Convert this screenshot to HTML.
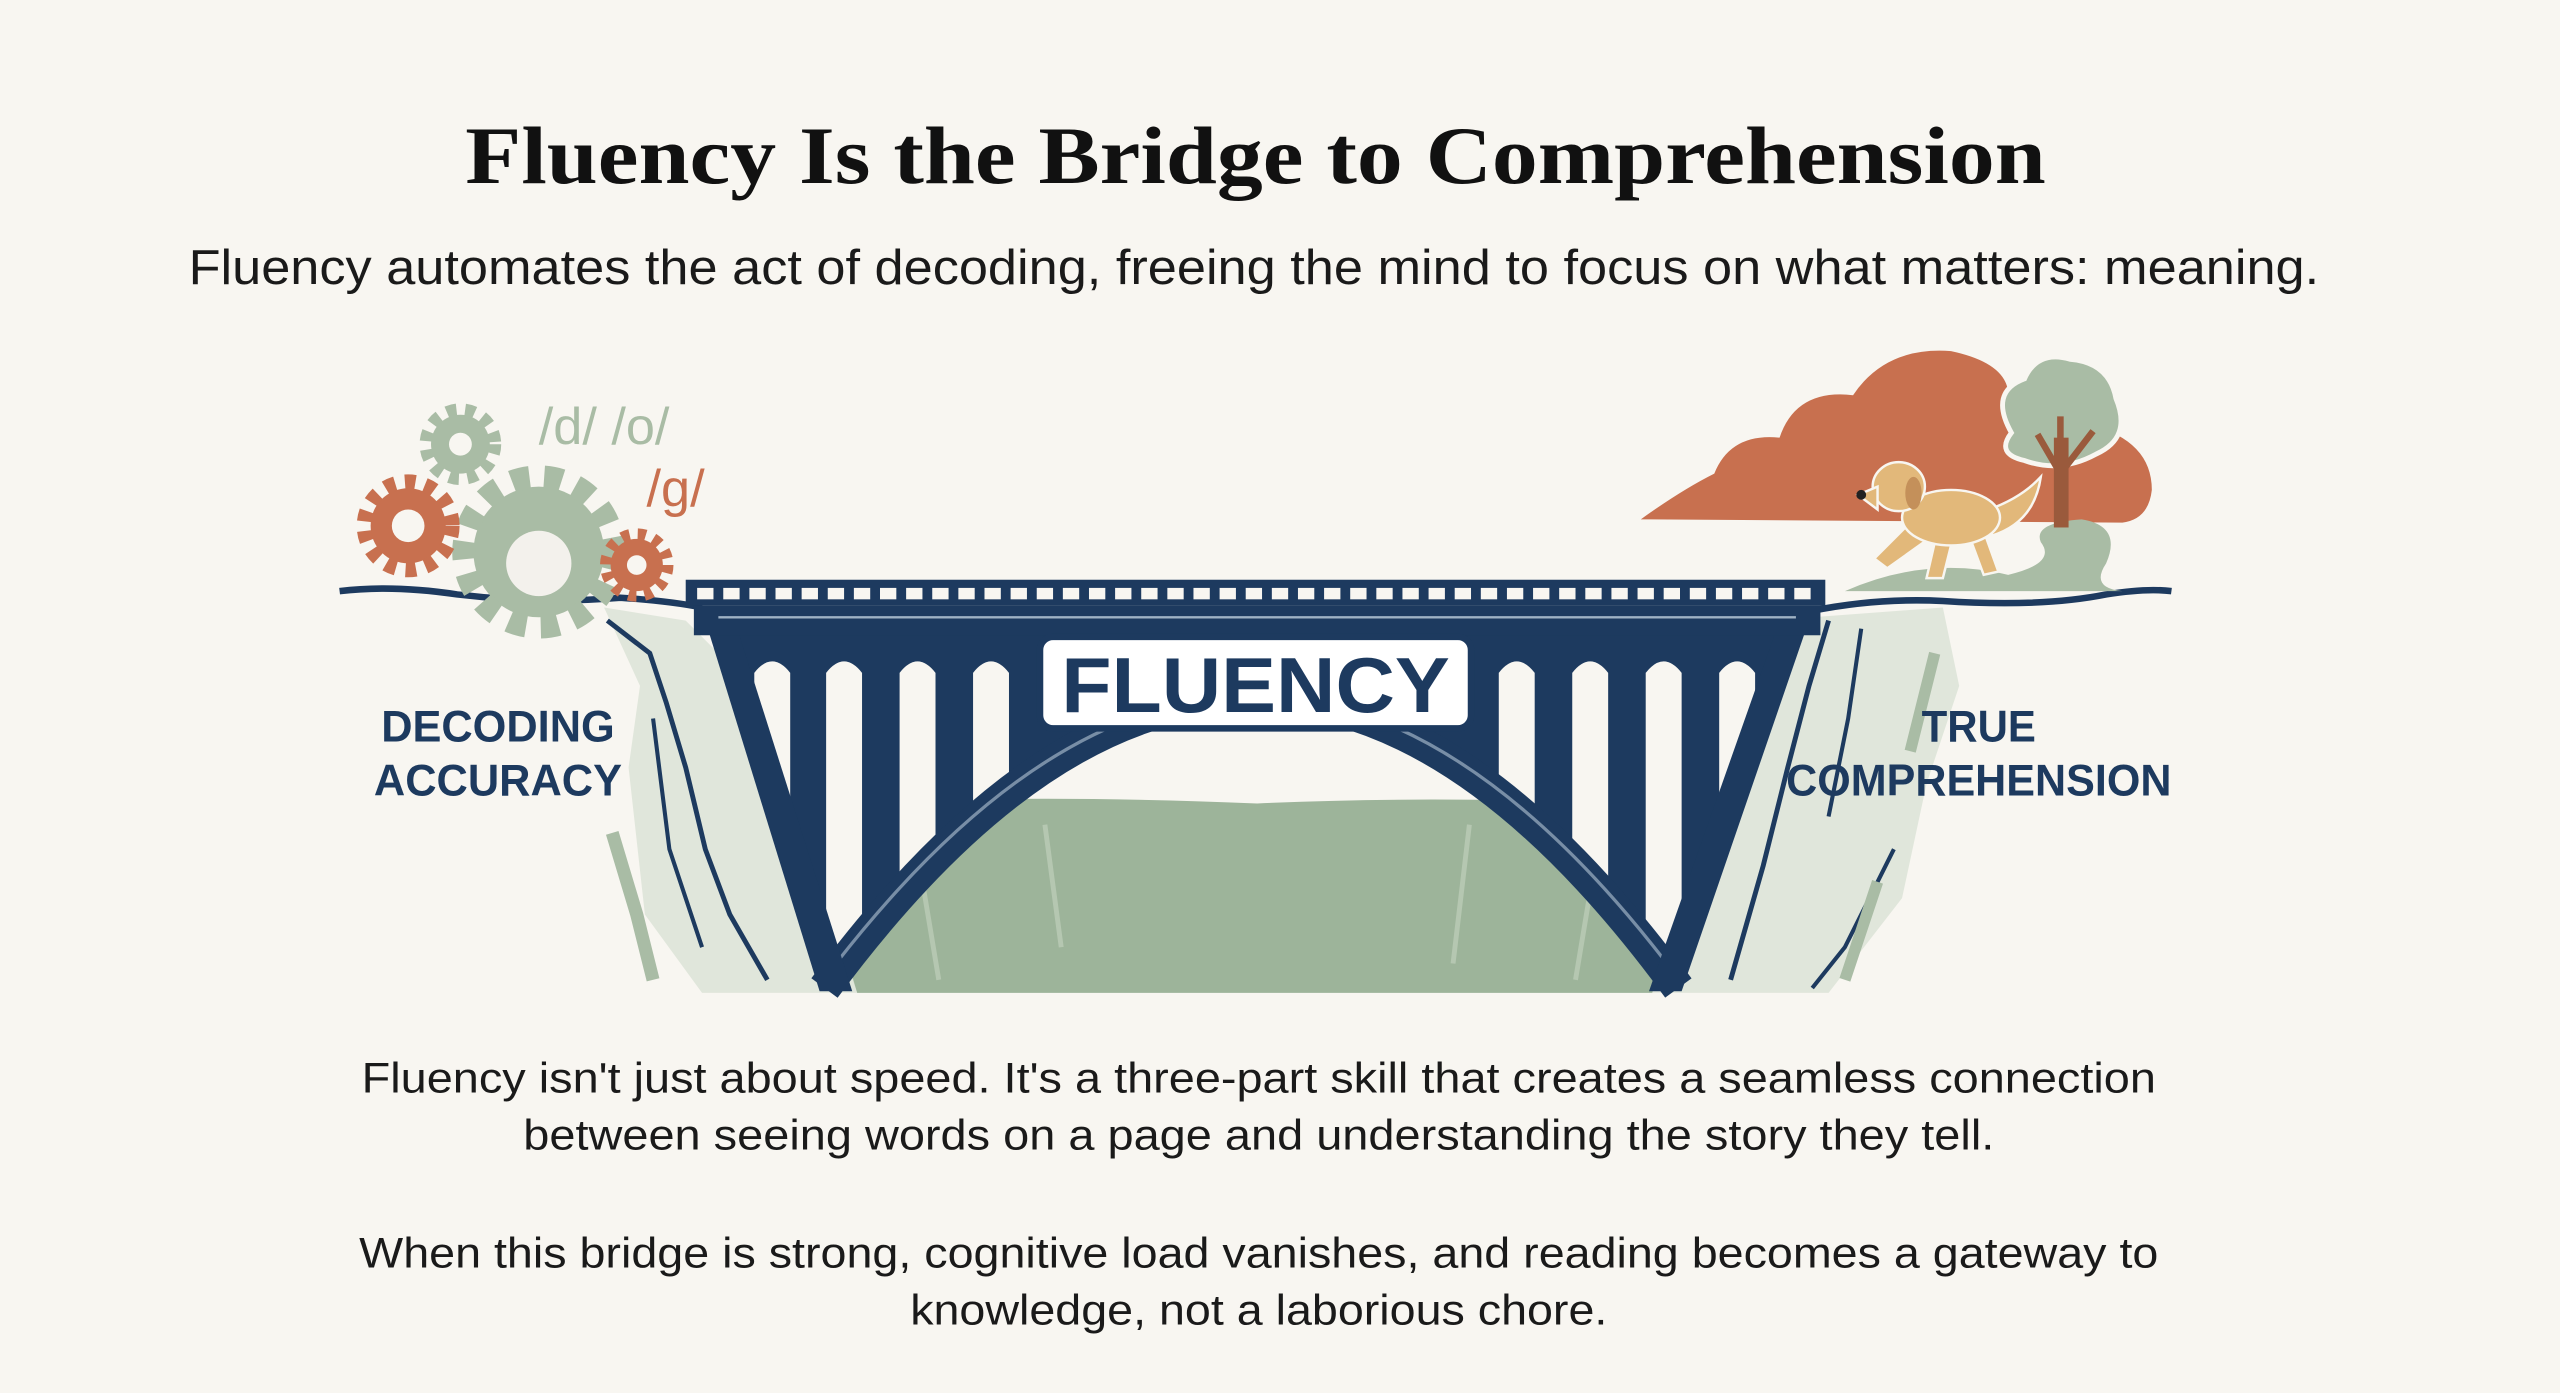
<!DOCTYPE html>
<html><head><meta charset="utf-8"><style>
html,body{margin:0;padding:0;background:#f8f6f1;}
svg{display:block;}
</style></head><body>
<svg width="2560" height="1393" viewBox="0 0 1568 853" preserveAspectRatio="none" xmlns="http://www.w3.org/2000/svg">
<rect width="1568" height="853" fill="#f8f6f1"/>
<defs>
<clipPath id="above"><path d="M438,385 L505,605 Q768,250 1028,605 L1102,385 Z"/></clipPath>
</defs>
<!-- title -->
<text x="769" y="112" text-anchor="middle" font-family="Liberation Serif, serif" font-weight="bold" font-size="50" fill="#111" textLength="968" lengthAdjust="spacingAndGlyphs">Fluency Is the Bridge to Comprehension</text>
<text x="768" y="174" text-anchor="middle" font-family="Liberation Sans, sans-serif" font-size="30" fill="#1a1a1a" textLength="1305" lengthAdjust="spacingAndGlyphs">Fluency automates the act of decoding, freeing the mind to focus on what matters: meaning.</text>

<!-- chasm -->
<path d="M488,495 Q600,485 770,492 Q900,486 1052,495 L1012,608 L525,608 Z" fill="#9db49a"/>
<path d="M560,510 L575,600 M640,505 L650,580 M900,505 L890,590 M980,510 L965,600" stroke="#b5c7b1" stroke-width="3" fill="none"/>
<!-- left cliff -->
<path d="M370,372 L420,380 L470,430 L500,520 L525,608 L430,608 L395,560 L385,470 L392,420 Z" fill="#d5e0d1" opacity="0.7"/>
<path d="M372,380 L398,400 L408,430 L420,470 L432,520 L447,560 L470,600" stroke="#1d3a5f" stroke-width="3" fill="none"/>
<path d="M400,440 L410,520 L430,580" stroke="#1d3a5f" stroke-width="2.5" fill="none"/>
<path d="M375,510 L390,560 L400,600" stroke="#a9bca5" stroke-width="8" fill="none"/>
<!-- right cliff -->
<path d="M1110,378 L1190,372 L1200,420 L1180,480 L1165,550 L1120,608 L1012,608 L1040,540 L1080,440 Z" fill="#d5e0d1" opacity="0.7"/>
<path d="M1120,380 L1108,420 L1095,470 L1080,530 L1060,600" stroke="#1d3a5f" stroke-width="3" fill="none"/>
<path d="M1140,385 L1132,440 L1120,500 M1160,520 L1130,580 L1110,605" stroke="#1d3a5f" stroke-width="2.5" fill="none"/>
<path d="M1185,400 L1170,460 M1150,540 L1130,600" stroke="#a9bca5" stroke-width="7" fill="none"/>

<!-- ground lines -->
<path d="M208,362 Q240,358 280,364 Q330,370 380,366 Q410,368 430,372" stroke="#1d3a5f" stroke-width="4" fill="none"/>
<path d="M1110,374 Q1150,366 1190,368 Q1250,372 1290,364 Q1315,360 1330,362" stroke="#1d3a5f" stroke-width="4" fill="none"/>

<!-- bridge body -->
<g clip-path="url(#above)">
<rect x="430" y="380" width="680" height="240" fill="#1d3a5f"/>
<g fill="#f8f6f1">
<path d="M462,640 L462,412 Q473,398 484,412 L484,640 Z"/>
<path d="M506,640 L506,412 Q517,398 528,412 L528,640 Z"/>
<path d="M551,640 L551,412 Q562,398 573,412 L573,640 Z"/>
<path d="M596,640 L596,412 Q607,398 618,412 L618,640 Z"/>
<path d="M918,640 L918,412 Q929,398 940,412 L940,640 Z"/>
<path d="M963,640 L963,412 Q974,398 985,412 L985,640 Z"/>
<path d="M1008,640 L1008,412 Q1019,398 1030,412 L1030,640 Z"/>
<path d="M1053,640 L1053,412 Q1064,398 1075,412 L1075,640 Z"/>
</g>
</g>
<path d="M505,605 Q768,250 1028,605" stroke="#1d3a5f" stroke-width="20" fill="none"/>
<path d="M512,590 Q768,262 1021,590" stroke="#9fb2c4" stroke-width="2" fill="none" opacity="0.7"/>
<!-- side legs -->
<path d="M432,380 L450,380 L522,607 L502,607 Z" fill="#1d3a5f"/>
<path d="M1090,380 L1108,380 L1030,607 L1010,607 Z" fill="#1d3a5f"/>
<!-- deck -->
<rect x="420" y="355" width="698" height="16" fill="#1d3a5f"/>
<rect x="425" y="371" width="690" height="18" fill="#1d3a5f"/>
<line x1="440" y1="378" x2="1100" y2="378" stroke="#9fb2c4" stroke-width="1.5"/>

<!-- FLUENCY box -->
<rect x="637" y="390" width="264" height="56" rx="8" fill="#fff" stroke="#1d3a5f" stroke-width="4"/>
<text x="769" y="436" text-anchor="middle" font-family="Liberation Sans, sans-serif" font-weight="bold" font-size="48" fill="#1d3a5f" textLength="238" lengthAdjust="spacingAndGlyphs">FLUENCY</text>

<!-- gears -->
<g fill="#a9bca5">
<circle cx="282" cy="272" r="18"/>
<g stroke="#a9bca5" stroke-width="8" stroke-dasharray="6 5.3"><circle cx="282" cy="272" r="21" fill="none"/></g>
<circle cx="330" cy="338" r="40"/>
<g stroke="#a9bca5" stroke-width="14" stroke-dasharray="11 9"><circle cx="330" cy="338" r="46" fill="none"/></g>
</g>
<circle cx="282" cy="272" r="7" fill="#f8f6f1"/>
<circle cx="330" cy="345" r="20" fill="#f3f1ec"/>
<g fill="#c8704f">
<circle cx="250" cy="322" r="23"/>
<g stroke="#c8704f" stroke-width="9" stroke-dasharray="6.5 6"><circle cx="250" cy="322" r="27" fill="none"/></g>
<circle cx="390" cy="346" r="16"/>
<g stroke="#c8704f" stroke-width="7" stroke-dasharray="5 5"><circle cx="390" cy="346" r="19" fill="none"/></g>
</g>
<circle cx="250" cy="322" r="10" fill="#f8f6f1"/>
<circle cx="390" cy="346" r="6" fill="#f8f6f1"/>
<text x="330" y="272" font-family="Liberation Sans, sans-serif" font-size="32" fill="#a9bca5">/d/ /o/</text>
<text x="396" y="310" font-family="Liberation Sans, sans-serif" font-size="32" fill="#c8704f">/g/</text>

<!-- cloud -->
<path d="M1005,318 Q1030,300 1050,290 Q1060,265 1090,268 Q1100,238 1135,242 Q1155,212 1195,215 Q1228,222 1230,240 L1280,260 Q1318,270 1318,300 Q1316,318 1300,320 Z" fill="#c8704f"/>
<!-- path green -->
<path d="M1130,362 Q1180,340 1230,352 Q1260,345 1250,332 Q1245,320 1275,318 Q1300,322 1290,345 Q1280,360 1300,362 Z" fill="#a9bca5"/>
<!-- tree -->
<path d="M1232,265 Q1218,240 1240,232 Q1248,214 1268,220 Q1292,222 1296,244 Q1306,268 1284,278 Q1262,290 1240,282 Q1222,278 1232,265 Z" fill="#a9bca5" stroke="#f8f6f1" stroke-width="3"/>
<rect x="1258" y="268" width="9" height="55" fill="#9a5a3c"/>
<path d="M1262,290 L1248,266 M1262,290 L1282,264 M1262,280 L1262,255" stroke="#9a5a3c" stroke-width="4"/>
<!-- dog -->
<g fill="#e2b87a" stroke="#f8f6f1" stroke-width="1.5">
<path d="M1218,312 Q1238,305 1250,292 Q1246,320 1220,328 Z"/>
<path d="M1172,318 L1148,342 L1156,348 L1184,328 Z"/>
<path d="M1205,325 L1215,352 L1224,350 L1215,325 Z"/>
<path d="M1186,328 L1180,354 L1190,354 L1196,330 Z"/>
<ellipse cx="1195" cy="317" rx="30" ry="17"/>
<ellipse cx="1163" cy="298" rx="16" ry="15"/>
<path d="M1150,298 L1138,303 L1150,312 Z"/>
</g>
<ellipse cx="1172" cy="302" rx="5" ry="10" fill="#c4905a"/>
<circle cx="1140" cy="303" r="3" fill="#222"/>

<!-- side labels -->
<g font-family="Liberation Sans, sans-serif" font-weight="bold" font-size="27" fill="#1d3a5f" text-anchor="middle">
<text x="305" y="454" textLength="143" lengthAdjust="spacingAndGlyphs">DECODING</text>
<text x="305" y="487" textLength="152" lengthAdjust="spacingAndGlyphs">ACCURACY</text>
<text x="1212" y="454" textLength="70" lengthAdjust="spacingAndGlyphs">TRUE</text>
<text x="1212" y="487" textLength="236" lengthAdjust="spacingAndGlyphs">COMPREHENSION</text>
</g>

<!-- body text -->
<g font-family="Liberation Sans, sans-serif" font-size="26" fill="#1a1a1a" text-anchor="middle">
<text x="771" y="669" textLength="1099" lengthAdjust="spacingAndGlyphs">Fluency isn't just about speed. It's a three-part skill that creates a seamless connection</text>
<text x="771" y="704" textLength="901" lengthAdjust="spacingAndGlyphs">between seeing words on a page and understanding the story they tell.</text>
<text x="771" y="776" textLength="1102" lengthAdjust="spacingAndGlyphs">When this bridge is strong, cognitive load vanishes, and reading becomes a gateway to</text>
<text x="771" y="811" textLength="427" lengthAdjust="spacingAndGlyphs">knowledge, not a laborious chore.</text>
</g>

<!-- rail squares -->
<g fill="#f8f6f1">
<rect x="427" y="360" width="10" height="7"/><rect x="443" y="360" width="10" height="7"/><rect x="459" y="360" width="10" height="7"/><rect x="475" y="360" width="10" height="7"/><rect x="491" y="360" width="10" height="7"/><rect x="507" y="360" width="10" height="7"/><rect x="523" y="360" width="10" height="7"/><rect x="539" y="360" width="10" height="7"/><rect x="555" y="360" width="10" height="7"/><rect x="571" y="360" width="10" height="7"/><rect x="587" y="360" width="10" height="7"/><rect x="603" y="360" width="10" height="7"/><rect x="619" y="360" width="10" height="7"/><rect x="635" y="360" width="10" height="7"/><rect x="651" y="360" width="10" height="7"/><rect x="667" y="360" width="10" height="7"/><rect x="683" y="360" width="10" height="7"/><rect x="699" y="360" width="10" height="7"/><rect x="715" y="360" width="10" height="7"/><rect x="731" y="360" width="10" height="7"/><rect x="747" y="360" width="10" height="7"/><rect x="763" y="360" width="10" height="7"/><rect x="779" y="360" width="10" height="7"/><rect x="795" y="360" width="10" height="7"/><rect x="811" y="360" width="10" height="7"/><rect x="827" y="360" width="10" height="7"/><rect x="843" y="360" width="10" height="7"/><rect x="859" y="360" width="10" height="7"/><rect x="875" y="360" width="10" height="7"/><rect x="891" y="360" width="10" height="7"/><rect x="907" y="360" width="10" height="7"/><rect x="923" y="360" width="10" height="7"/><rect x="939" y="360" width="10" height="7"/><rect x="955" y="360" width="10" height="7"/><rect x="971" y="360" width="10" height="7"/><rect x="987" y="360" width="10" height="7"/><rect x="1003" y="360" width="10" height="7"/><rect x="1019" y="360" width="10" height="7"/><rect x="1035" y="360" width="10" height="7"/><rect x="1051" y="360" width="10" height="7"/><rect x="1067" y="360" width="10" height="7"/><rect x="1083" y="360" width="10" height="7"/><rect x="1099" y="360" width="10" height="7"/>
</g>
</svg>
</body></html>
